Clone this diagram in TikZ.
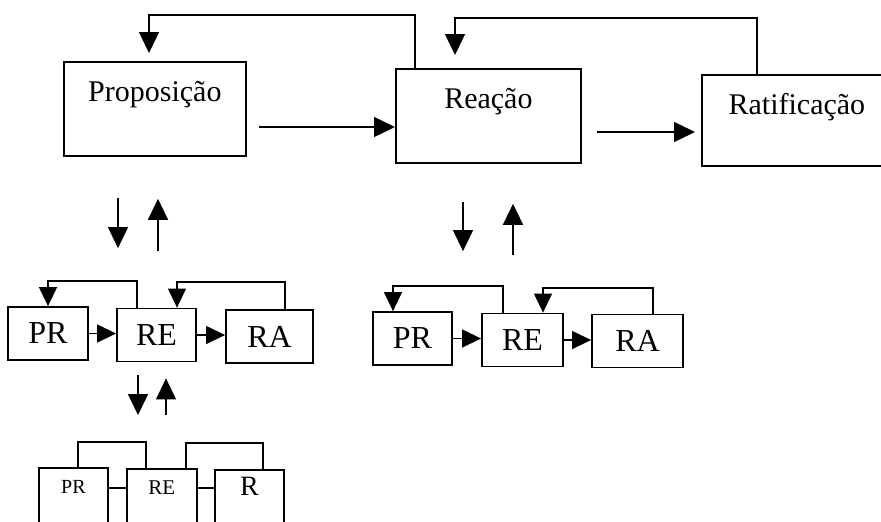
\documentclass[tikz,border=0pt]{standalone}
\usepackage{fontspec}
\setmainfont{Liberation Serif}
\usetikzlibrary{arrows.meta}

\begin{document}
\begin{tikzpicture}[x=0.5pt, y=-0.5pt,
    stage/.style={draw, line width=0.9pt, inner sep=0pt, anchor=north west,
                  text height=20pt, font=\fontsize{15}{18}\selectfont},
    etapa/.style={draw, line width=0.9pt, inner sep=0pt, minimum height=26.5pt,
                  font=\fontsize{16}{19}\selectfont},
    mini/.style={draw, line width=0.9pt, inner sep=0pt, anchor=north west,
                 text height=13pt, text depth=30pt},
    seta/.style={-{Triangle[length=10.5pt, width=10pt]}, line width=0.65pt},
    setap/.style={-{Triangle[length=9.5pt, width=9pt]}, line width=0.65pt},
    liga/.style={line width=0.65pt},
]
    \useasboundingbox (0,0) rectangle (881,521);
    \clip (0,0) rectangle (881,521);

    % top level
    \node[stage, minimum width=91pt, text depth=27pt] (prop) at (63,61) {Proposição};
    \node[stage, minimum width=92.5pt, text depth=27pt] (reacao) at (395,68) {Reação};
    \node[stage, minimum width=95pt, text depth=25.5pt] (ratif) at (701,74) {Ratificação};

    \draw[seta, shorten <=6pt] (prop.east |- 0,127) -- (reacao.west |- 0,127);
    \draw[seta, shorten <=7.5pt, shorten >=3pt] (reacao.east |- 0,132) -- (ratif.west |- 0,132);
    \draw[seta, shorten >=4pt] (reacao.north -| 415,0) |- (149,15) -- (prop.north -| 149,0);
    \draw[seta, shorten >=6.5pt] (ratif.north -| 757,0) |- (455,18) -- (reacao.north -| 455,0);

    % second level, left
    \node[etapa, minimum width=40pt] (pr1) at (48,333.5) {PR};
    \node[etapa, minimum width=39.5pt] (re1) at (156.5,335) {RE};
    \node[etapa, minimum width=43.5pt] (ra1) at (269.5,336.5) {RA};

    \draw[setap] (pr1.east) -- (re1.west |- pr1.east);
    \draw[setap] (re1.east) -- (ra1.west |- re1.east);
    \draw[setap] (re1.north -| 137,0) |- (48,281) -- (pr1.north);
    \draw[setap] (ra1.north -| 285,0) |- (177,282) -- (re1.north -| 177,0);

    % second level, right
    \node[etapa, minimum width=39.5pt] (pr2) at (412.5,338.5) {PR};
    \node[etapa, minimum width=40.5pt] (re2) at (522.5,340) {RE};
    \node[etapa, minimum width=45.5pt] (ra2) at (637.5,341) {RA};

    \draw[setap] (pr2.east) -- (re2.west |- pr2.east);
    \draw[setap] (re2.east) -- (ra2.west |- re2.east);
    \draw[setap] (re2.north -| 503,0) |- (393,286) -- (pr2.north -| 393,0);
    \draw[setap] (ra2.north -| 653,0) |- (543,288) -- (re2.north -| 543,0);

    % between levels
    \draw[seta, shorten <=20.5pt, shorten >=29pt] (prop.south -| 118,0) -- (pr1.north -| 118,0);
    \draw[seta, shorten <=28.5pt, shorten >=21pt] (re1.north -| 158,0) -- (prop.south -| 158,0);
    \draw[seta, shorten <=19pt, shorten >=30pt] (reacao.south -| 463,0) -- (pr2.north -| 463,0);
    \draw[seta, shorten <=29pt, shorten >=20pt] (re2.north -| 513,0) -- (reacao.south -| 513,0);

    % third level
    \node[mini, minimum width=34.5pt, font=\fontsize{10}{12}\selectfont] (pr3) at (38,467) {PR};
    \node[mini, minimum width=35pt, font=\fontsize{10.5}{12}\selectfont] (re3) at (126,468) {RE};
    \node[mini, minimum width=34.5pt, font=\fontsize{14}{16}\selectfont] (r3) at (214,469) {R};

    \draw[seta, shorten <=6.5pt, shorten >=26.5pt] (re1.south -| 138,0) -- (re3.north -| 138,0);
    \draw[seta, shorten <=26.5pt, shorten >=8pt] (re3.north -| 166,0) -- (re1.south -| 166,0);

    \draw[liga] (pr3.east |- 0,488) -- (re3.west |- 0,488);
    \draw[liga] (re3.east |- 0,488) -- (r3.west |- 0,488);
    \draw[liga] (pr3.north -| 78,0) |- (146,442) -- (re3.north -| 146,0);
    \draw[liga] (re3.north -| 186,0) |- (263,443) -- (r3.north -| 263,0);
\end{tikzpicture}
\end{document}
